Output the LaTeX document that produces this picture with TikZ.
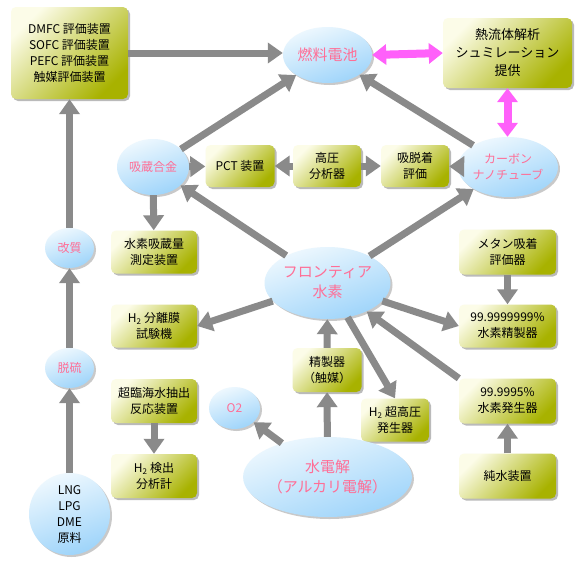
\documentclass[tikz,border=0pt]{standalone}
\usepackage{fontspec}
\newfontfamily\jp{Noto Sans CJK JP}
\usetikzlibrary{arrows.meta,shapes.geometric,shadows}
\definecolor{arrgray}{RGB}{138,138,138}
\definecolor{pinkarr}{RGB}{255,96,250}
\definecolor{pinktxt}{RGB}{255,110,150}
\definecolor{boxlight}{RGB}{252,252,232}
\definecolor{boxmid}{RGB}{216,222,112}
\definecolor{boxdark}{RGB}{168,178,0}
\definecolor{elllight}{RGB}{238,248,254}
\definecolor{elldark}{RGB}{158,212,250}
\tikzset{
  bx/.style={rectangle, rounded corners=5pt, inner sep=0pt, align=center,
    top color=boxlight, middle color=boxmid, bottom color=boxdark, shading angle=45,
    drop shadow={shadow xshift=2pt, shadow yshift=-2pt, fill=black!60, opacity=0.45},
    font=\jp\fontsize{12}{16}\selectfont, text=black},
  el/.style={ellipse, inner sep=0pt, align=center,
    top color=elllight, bottom color=elldark, shading angle=20,
    drop shadow={shadow xshift=2pt, shadow yshift=-2pt, fill=black!60, opacity=0.35},
    font=\jp\fontsize{12}{16}\selectfont, text=pinktxt},
  ga/.style={draw=arrgray, line width=7pt, -{Triangle[length=15pt,width=20pt]}},
  pa/.style={draw=pinkarr, line width=8pt, {Triangle[length=14pt,width=20pt]}-{Triangle[length=14pt,width=20pt]}}
}
\begin{document}
\begin{tikzpicture}[x=1pt,y=-1pt]
\useasboundingbox[fill=white] (0,0) rectangle (580,560);
% boxes
\node[bx, minimum width=117pt, minimum height=92pt] (dmfc) at (69.5,53) {DMFC 評価装置\\SOFC 評価装置\\PEFC 評価装置\\触媒評価装置};
\node[bx, minimum width=129pt, minimum height=70pt, font=\jp\fontsize{13}{18}\selectfont] (sim) at (507.5,53) {熱流体解析\\シュミレーション\\提供};
\node[bx, minimum width=69pt, minimum height=42pt] (pct) at (240,166) {PCT 装置};
\node[bx, minimum width=68pt, minimum height=42pt] (hp) at (327,166) {高圧\\分析器};
\node[bx, minimum width=68pt, minimum height=42pt] (ads) at (415,166) {吸脱着\\評価};
\node[bx, minimum width=86pt, minimum height=43pt] (h2st) at (154,252) {水素吸蔵量\\測定装置};
\node[bx, minimum width=86pt, minimum height=43pt] (memb) at (154,326) {H\textsubscript{2} 分離膜\\試験機};
\node[bx, minimum width=97pt, minimum height=45pt] (meth) at (507.5,252) {メタン吸着\\評価器};
\node[bx, minimum width=97pt, minimum height=43pt] (p9) at (507.5,326) {99.9999999\%\\水素精製器};
\node[bx, minimum width=86pt, minimum height=44pt] (sc) at (154,401) {超臨海水抽出\\反応装置};
\node[bx, minimum width=86pt, minimum height=44pt] (det) at (154,476) {H\textsubscript{2} 検出\\分析計};
\node[bx, minimum width=69pt, minimum height=44pt] (cat) at (327,370) {精製器\\（触媒）};
\node[bx, minimum width=68pt, minimum height=43pt] (uhp) at (395,420) {H\textsubscript{2} 超高圧\\発生器};
\node[bx, minimum width=97pt, minimum height=45pt] (p5) at (507.5,401) {99.9995\%\\水素発生器};
\node[bx, minimum width=97pt, minimum height=45pt] (pure) at (507.5,476) {純水装置};
% ellipses
\node[el, minimum width=89pt, minimum height=56pt, font=\jp\fontsize{15}{19}\selectfont] (fc) at (327.5,55) {燃料電池};
\node[el, minimum width=72pt, minimum height=56pt] (alloy) at (153,167) {吸蔵合金};
\node[el, minimum width=90pt, minimum height=60pt] (cnt) at (508,167) {カーボン\\ナノチューブ};
\node[el, minimum width=49pt, minimum height=40pt] (kai) at (69.5,248) {改質};
\node[el, minimum width=49pt, minimum height=40pt] (dat) at (69.5,368) {脱硫};
\node[el, minimum width=81pt, minimum height=82pt, text=black] (lng) at (69.5,514) {LNG\\LPG\\DME\\原料};
\node[el, minimum width=51pt, minimum height=42pt] (o2) at (234.5,408) {O2};
\node[el, minimum width=121pt, minimum height=80pt, font=\jp\fontsize{15}{20}\selectfont] (elec) at (327.5,477) {水電解\\（アルカリ電解）};
\node[el, minimum width=111pt, minimum height=72pt, font=\jp\fontsize{15}{20}\selectfont] (fr) at (327.5,283) {フロンティア\\水素};
% connectors
\draw[ga] (dmfc.east) -- (dmfc.east -| fc.west);
\draw[pa] (fc.east) -- (sim.west);
\draw[pa] (sim.south) -- (sim.south |- cnt.north);
\draw[ga] (alloy) -- (fc);
\draw[ga] (cnt) -- (fc);
\draw[ga] (alloy) -- (pct);
\draw[ga] (hp) -- (pct);
\draw[ga] (hp) -- (ads);
\draw[ga] (cnt) -- (ads);
\draw[ga] (alloy) -- (h2st);
\draw[ga] (fr) -- (alloy);
\draw[ga] (fr) -- (cnt);
\draw[ga] (fr) -- (memb.east);
\draw[ga] (fr) -- (p9.west);
\draw[ga] (meth) -- (p9);
\draw[ga] (cat) -- (fr);
\draw[ga] (fr) -- (uhp.north);
\draw[ga] (p5.north west) -- (fr);
\draw[ga] (pure) -- (p5);
\draw[ga] (elec) -- (cat);
\draw[ga] (elec) -- (o2);
\draw[ga] (sc) -- (det);
\draw[ga] (lng) -- (dat);
\draw[ga] (dat) -- (kai);
\draw[ga] (kai) -- (dmfc);
\end{tikzpicture}
\end{document}
